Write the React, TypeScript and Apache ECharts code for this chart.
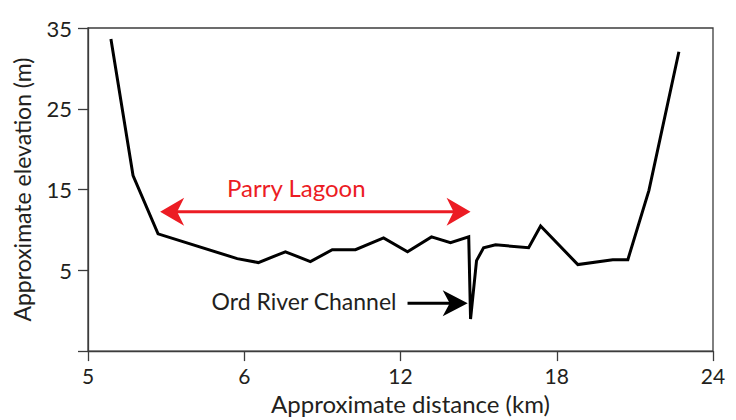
import { useEffect, useRef } from 'react';
import * as echarts from 'echarts';

// Profile across the Ord River floodplain: distance (km) vs elevation (m)
const distanceKm = [
  0.88, 1.73, 2.69, 5.73, 6.54, 7.58, 8.54, 9.38, 10.27, 11.35, 12.27, 13.19,
  13.92, 14.62, 14.69, 14.92, 15.19, 15.65, 16.92, 17.38, 18.81, 20.15, 20.73,
  21.54, 22.69,
];
const elevationM = [
  33.65, 16.74, 9.51, 6.45, 5.96, 7.3, 6.08, 7.55, 7.55, 9.02, 7.3, 9.14, 8.41,
  9.14, -1.03, 6.2, 7.79, 8.16, 7.79, 10.49, 5.71, 6.32, 6.32, 14.9, 32.06,
];
const xTickLabels = ['5', '6', '12', '18', '24'];

// Annotation anchors, in data units (km, m)
const lagoonArrowFrom = [2.77, 12.25];
const lagoonArrowTo = [14.69, 12.25];
const lagoonLabelAt = [8.0, 15.3];
const channelArrowFrom = [12.27, 0.93];
const channelArrowTo = [14.58, 0.93];

const RED = '#ec1c24';
const INK = '#231f20';
const AXIS = '#3c3c3c';
const FONT = 'Lato, "Open Sans", sans-serif';

// Swept arrowhead whose tip sits at `tip`, pointing along +x (dir 1) or -x (dir -1)
function headPoints(tip: number[], dir: number, len: number, half: number, notch: number) {
  return [
    [tip[0], tip[1]],
    [tip[0] - dir * len, tip[1] - half],
    [tip[0] - dir * notch, tip[1]],
    [tip[0] - dir * len, tip[1] + half],
  ];
}

export default function App() {
  const ref = useRef<HTMLDivElement>(null);

  useEffect(() => {
    if (!ref.current) return;
    const chart = echarts.init(ref.current, undefined, { renderer: 'svg' });
    chart.setOption({
      animation: false,
      grid: {
        left: 88,
        right: 23,
        top: 28,
        bottom: 65,
        show: true,
        borderColor: AXIS,
        borderWidth: 1.3,
      },
      xAxis: {
        type: 'value',
        min: 0,
        max: 24,
        interval: 6,
        name: 'Approximate distance (km)',
        nameLocation: 'middle',
        nameGap: 39,
        nameTextStyle: {
          fontFamily: FONT,
          fontSize: 24,
          lineHeight: 24,
          color: INK,
          padding: [0, 0, 0, 20],
        },
        axisLine: { show: true, onZero: false, lineStyle: { color: AXIS, width: 1.3 } },
        axisTick: { show: true, inside: false, length: 10, lineStyle: { color: AXIS, width: 1.3 } },
        axisLabel: {
          margin: 14,
          fontFamily: FONT,
          fontSize: 21,
          lineHeight: 21,
          color: INK,
          formatter: (v: number) => xTickLabels[Math.round(v / 6)] ?? '',
        },
        splitLine: { show: false },
      },
      yAxis: {
        type: 'value',
        min: -5,
        max: 35,
        interval: 10,
        name: 'Approximate elevation (m)',
        nameLocation: 'middle',
        nameGap: 55,
        nameTextStyle: { fontFamily: FONT, fontSize: 23, color: INK },
        axisLine: { show: true, onZero: false, lineStyle: { color: AXIS, width: 1.3 } },
        axisTick: { show: true, inside: false, length: 10, lineStyle: { color: AXIS, width: 1.3 } },
        axisLabel: {
          margin: 16,
          fontFamily: FONT,
          fontSize: 22,
          color: INK,
          formatter: (v: number) => (v < 0 ? '' : String(v)),
        },
        splitLine: { show: false },
      },
      series: [
        {
          type: 'line',
          data: distanceKm.map((d, i) => [d, elevationM[i]]),
          symbol: 'none',
          lineStyle: { color: '#000', width: 3, join: 'miter' },
        },
      ],
    });

    const px = (pt: number[]) => chart.convertToPixel({ gridIndex: 0 }, pt) as number[];
    const lf = px(lagoonArrowFrom);
    const lt = px(lagoonArrowTo);
    const ll = px(lagoonLabelAt);
    const cf = px(channelArrowFrom);
    const ct = px(channelArrowTo);

    chart.setOption({
      graphic: [
        {
          type: 'line',
          shape: { x1: lf[0] + 12, y1: lf[1], x2: lt[0] - 12, y2: lt[1] },
          style: { stroke: RED, lineWidth: 3 },
        },
        {
          type: 'polygon',
          shape: { points: headPoints(lf, -1, 24, 14, 17) },
          style: { fill: RED },
        },
        {
          type: 'polygon',
          shape: { points: headPoints(lt, 1, 24, 14, 17) },
          style: { fill: RED },
        },
        {
          type: 'text',
          x: ll[0],
          y: ll[1],
          style: {
            text: 'Parry Lagoon',
            fill: RED,
            font: `24px ${FONT}`,
            align: 'center',
            verticalAlign: 'middle',
          },
        },
        {
          type: 'line',
          shape: { x1: cf[0], y1: cf[1], x2: ct[0] - 12, y2: ct[1] },
          style: { stroke: '#000', lineWidth: 3 },
        },
        {
          type: 'polygon',
          shape: { points: headPoints(ct, 1, 25, 13, 18) },
          style: { fill: '#000' },
        },
        {
          type: 'text',
          x: cf[0] - 11,
          y: cf[1] - 2,
          style: {
            text: 'Ord River Channel',
            fill: INK,
            font: `23px ${FONT}`,
            align: 'right',
            verticalAlign: 'middle',
          },
        },
      ],
    });

    return () => chart.dispose();
  }, []);

  return <div ref={ref} style={{ width: 736, height: 420, position: 'absolute', left: 0, top: 0 }} />;
}
